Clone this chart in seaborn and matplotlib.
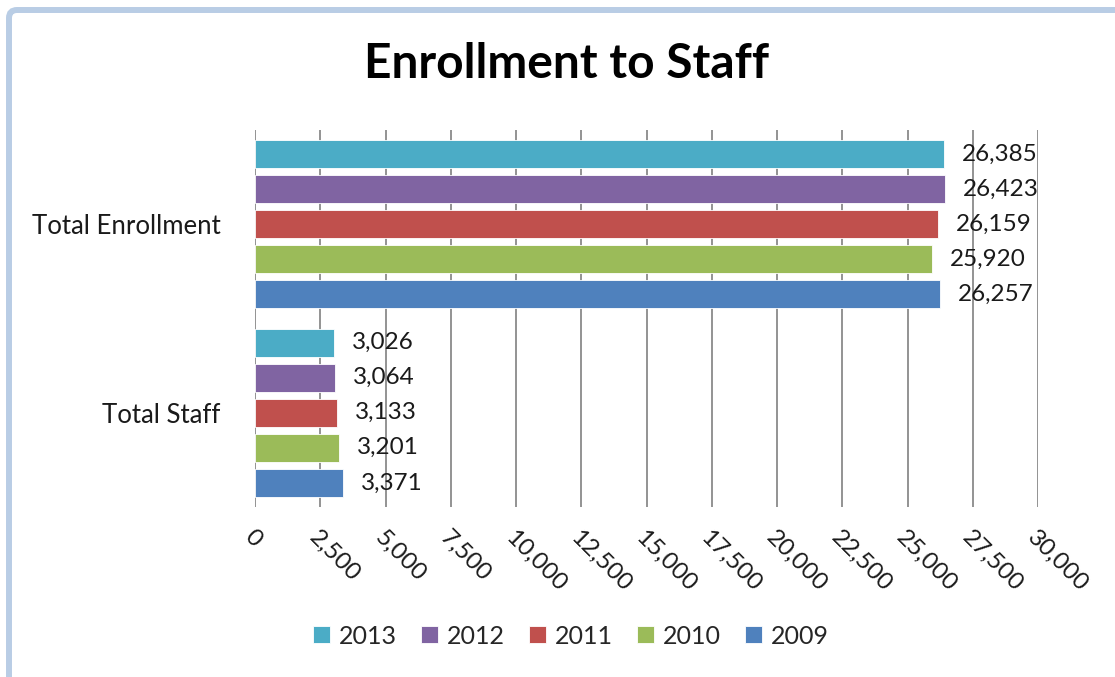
import matplotlib
matplotlib.use("Agg")
import matplotlib.pyplot as plt
from matplotlib.patches import FancyBboxPatch
import seaborn as sns
import pandas as pd

# Chart data
categories = ["Total Enrollment", "Total Staff"]
years = ["2013", "2012", "2011", "2010", "2009"]
enrollment = [26385, 26423, 26159, 25920, 26257]
staff = [3026, 3064, 3133, 3201, 3371]
x_ticks = list(range(0, 30001, 2500))

colors = {
    "2013": "#4BACC6",
    "2012": "#8064A2",
    "2011": "#C0504D",
    "2010": "#9BBB59",
    "2009": "#4F81BD",
}

rows = []
for yr, e, s in zip(years, enrollment, staff):
    rows.append({"category": categories[0], "year": yr, "value": e})
    rows.append({"category": categories[1], "year": yr, "value": s})
df = pd.DataFrame(rows)

sns.set_theme(style="white")
plt.rcParams["font.family"] = ["Lato", "DejaVu Sans"]

fig = plt.figure(figsize=(11.15, 6.77), dpi=100)
ax = fig.add_axes([255 / 1115, 1 - 507 / 677, (1038 - 255) / 1115, (507 - 130) / 677])

sns.barplot(
    data=df, y="category", x="value", hue="year",
    order=categories, hue_order=years, palette=colors,
    orient="h", width=0.93, gap=0.2, saturation=1,
    edgecolor="white", linewidth=0.6, ax=ax,
)

# value labels to the right of each bar
for cont, yr in zip(ax.containers, years):
    vals = [v for v in df[df["year"] == yr].set_index("category").loc[categories, "value"]]
    ax.bar_label(cont, labels=[f"{v:,}" for v in vals], padding=13,
                 fontsize=17.5, color="#1a1a1a")

ax.set_xlim(0, 30000)
ax.set_xticks(x_ticks)
ax.set_xticklabels([f"{t:,}" for t in x_ticks], rotation=-45, ha="left",
                   va="top", rotation_mode="anchor", fontsize=17.5, color="#1a1a1a")
ax.tick_params(axis="x", length=0, pad=14)
ax.tick_params(axis="y", length=0, pad=25, labelsize=18.5, labelcolor="#1a1a1a")
ax.set_xlabel("")
ax.set_ylabel("")
ax.grid(axis="x", color="#8a8a8a", linewidth=1.3)
ax.grid(axis="y", visible=False)
ax.set_axisbelow(True)
for sp in ax.spines.values():
    sp.set_visible(False)

handles, labels = ax.get_legend_handles_labels()
ax.get_legend().remove()
fig.legend(handles, labels, loc="center", bbox_to_anchor=(0.512, 1 - 636 / 677),
           ncol=5, frameon=False, fontsize=18, handlelength=0.65, handleheight=0.65,
           handletextpad=0.35, columnspacing=1.0)

fig.text(0.508, 1 - 64 / 677, "Enrollment to Staff", ha="center", va="center",
         fontsize=34.5, fontweight="bold", color="black")

# light blue frame running along the top and left edges
frame = FancyBboxPatch((9, -100), 1300, 677 - 10 + 100,
                       boxstyle="round,pad=0,rounding_size=8",
                       transform=None, fill=False, edgecolor="#B9CDE5",
                       linewidth=4.3, clip_on=False)
fig.add_artist(frame)

fig.savefig("out.png", dpi=100, facecolor="white")
